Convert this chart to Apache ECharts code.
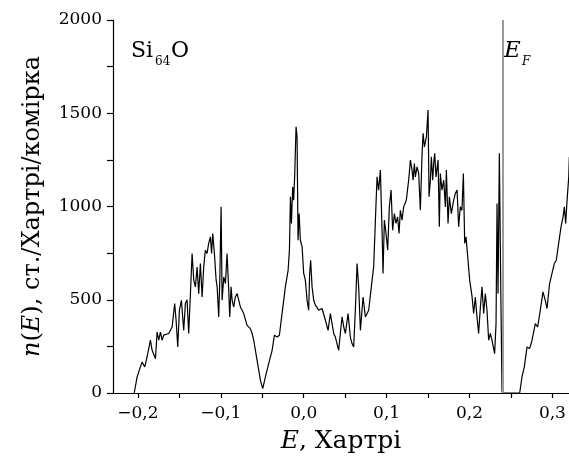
<!DOCTYPE html>
<html>
<head>
<meta charset="utf-8">
<script src="https://cdn.jsdelivr.net/npm/echarts@6/dist/echarts.min.js"></script>
<style>html,body{margin:0;padding:0;background:#fff}#c{width:569px;height:464px}</style>
</head>
<body>
<div id="c"></div>
<script>
// Energy (Hartree) and density of states n(E)
const energy = [
-0.2044,-0.2030,-0.2009,-0.1970,-0.1949,-0.1917,-0.1889,-0.1849,-0.1828,-0.1788,-0.1768,-0.1748,-0.1728,-0.1708,-0.1688,-0.1668,-0.1628,-0.1587,-0.1556,-0.1539,-0.1519,-0.1499,-0.1475,-0.1447,-0.1427,-0.1407,-0.1387,-0.1366,-0.1346,-0.1326,-0.1306,-0.1286,-0.1266,-0.1246,-0.1225,-0.1206,-0.1186,-0.1166,-0.1146,-0.1125,-0.1111,-0.1097,-0.1077,-0.1056,-0.1044,-0.1025,-0.1012,-0.0996,-0.0984,-0.0964,-0.0944,-0.0924,-0.0904,-0.0892,-0.0876,-0.0863,-0.0844,-0.0824,-0.0803,-0.0763,-0.0723,-0.0683,-0.0643,-0.0622,-0.0603,-0.0562,-0.0522,-0.0494,-0.0462,-0.0422,-0.0381,-0.0353,-0.0321,-0.0293,-0.0261,-0.0241,-0.0221,-0.0188,-0.0172,-0.0160,-0.0148,-0.0133,-0.0121,-0.0109,-0.0092,-0.0080,-0.0068,-0.0055,-0.0040,-0.0019,0.0000,0.0020,0.0041,0.0060,0.0072,0.0084,0.0101,0.0121,0.0141,0.0181,0.0222,0.0262,0.0294,0.0322,0.0342,0.0362,0.0382,0.0422,0.0442,0.0463,0.0483,0.0503,0.0535,0.0563,0.0583,0.0603,0.0623,0.0644,0.0663,0.0684,0.0716,0.0744,0.0784,0.0825,0.0844,0.0865,0.0885,0.0904,0.0925,0.0945,0.0957,0.0973,0.0993,0.1013,0.1033,0.1054,0.1073,0.1094,0.1113,0.1133,0.1150,0.1166,0.1186,0.1206,0.1238,0.1266,0.1287,0.1307,0.1319,0.1335,0.1347,0.1367,0.1387,0.1407,0.1428,0.1440,0.1456,0.1480,0.1500,0.1512,0.1528,0.1540,0.1556,0.1568,0.1580,0.1596,0.1621,0.1636,0.1648,0.1668,0.1689,0.1709,0.1721,0.1741,0.1757,0.1781,0.1809,0.1829,0.1850,0.1869,0.1889,0.1909,0.1926,0.1942,0.1958,0.1982,0.2002,0.2031,0.2050,0.2070,0.2090,0.2110,0.2131,0.2151,0.2171,0.2191,0.2211,0.2231,0.2251,0.2271,0.2303,0.2320,0.2332,0.2344,0.2360,0.2376,0.2392,0.2396,0.2500,0.2605,0.2633,0.2661,0.2694,0.2725,0.2754,0.2794,0.2822,0.2854,0.2886,0.2914,0.2935,0.2966,0.2995,0.3023,0.3047,0.3075,0.3104,0.3128,0.3144,0.3160,0.3177,0.3197,0.3204
];
const dos = [
0,0,86,140,166,140,193,283,229,184,327,283,327,283,310,300,319,354,480,390,247,444,497,336,480,500,319,533,748,605,569,676,533,694,515,676,766,748,802,837,748,855,748,605,570,408,605,998,497,622,587,748,551,408,569,497,461,515,533,461,426,363,345,319,283,175,68,24,86,158,229,310,300,310,426,497,569,658,766,1052,909,1105,1034,1159,1427,1374,819,962,819,783,641,605,497,444,641,712,569,497,471,444,453,390,336,426,372,319,300,229,319,408,354,319,426,300,265,247,444,694,569,336,515,408,444,605,676,927,1159,1088,1195,873,641,927,855,766,998,1088,873,962,909,944,855,980,927,998,1034,1141,1249,1195,1141,1230,1159,1213,1177,980,1285,1392,1320,1374,1517,1052,1141,1266,1141,1230,1285,1159,1249,891,1177,1088,1141,998,1195,909,1052,962,1034,1070,1088,891,998,980,1177,802,837,712,605,515,426,515,408,319,461,569,426,533,444,283,319,283,211,372,1016,533,1285,600,15,0,0,0,86,140,247,238,283,372,354,444,542,497,453,587,641,694,712,802,891,944,998,909,1034,1159,1266
];
const fermiEnergy = 0.2355;
const xLabelValues = [-0.2, -0.1, 0, 0.1, 0.2, 0.3];
const xTickValues = [-0.2, -0.15, -0.1, -0.05, 0, 0.05, 0.1, 0.15, 0.2, 0.25, 0.3];
const yTickValues = [0, 250, 500, 750, 1000, 1250, 1500, 1750, 2000];

const serif = '"DejaVu Serif", "Liberation Serif", serif';
const chart = echarts.init(document.getElementById('c'), null, {renderer: 'canvas'});
const fmtX = v => (v < -1e-9 ? '\u2212' : '') + Math.abs(v).toFixed(1).replace('.', ',');

chart.setOption({
  animation: false,
  backgroundColor: '#fff',
  grid: {left: 113, right: 0, top: 20, bottom: 71},
  xAxis: {
    type: 'value', min: -0.23, max: 0.32,
    name: '{i|E}, Хартрі', nameLocation: 'middle', nameGap: 36,
    nameTextStyle: {fontFamily: serif, fontSize: 25, color: '#000',
      rich: {i: {fontFamily: serif, fontSize: 25, fontStyle: 'italic', color: '#000'}}},
    axisLine: {show: true, onZero: false, lineStyle: {color: '#000', width: 1.2}},
    axisTick: {show: true, length: 5, customValues: xTickValues, lineStyle: {color: '#000', width: 1.2}},
    axisLabel: {customValues: xLabelValues, formatter: fmtX, fontFamily: serif, fontSize: 17, color: '#000', margin: 12},
    splitLine: {show: false}
  },
  yAxis: {
    type: 'value', min: 0, max: 2000, interval: 500,
    name: '{i|n}({i|E}), ст./Хартрі/комірка', nameLocation: 'middle', nameGap: 68, nameRotate: 90,
    nameTextStyle: {fontFamily: serif, fontSize: 24, color: '#000',
      rich: {i: {fontFamily: serif, fontSize: 24, fontStyle: 'italic', color: '#000'}}},
    axisLine: {show: true, onZero: false, lineStyle: {color: '#000', width: 1.2}},
    axisTick: {show: true, length: 6, customValues: yTickValues, lineStyle: {color: '#000', width: 1.2}},
    axisLabel: {formatter: v => String(v), fontFamily: serif, fontSize: 17, color: '#000', margin: 11},
    splitLine: {show: false}
  },
  graphic: [
    {type: 'text', left: 131, top: 40, style: {text: 'Si', font: '22px ' + serif, fill: '#000'}},
    {type: 'text', left: 155, top: 56, style: {text: '64', font: '12px ' + serif, fill: '#000'}},
    {type: 'text', left: 171, top: 40, style: {text: 'O', font: '22px ' + serif, fill: '#000'}},
    {type: 'text', left: 504, top: 40, style: {text: 'E', font: 'italic 23px ' + serif, fill: '#000'}},
    {type: 'text', left: 522, top: 56, style: {text: 'F', font: 'italic 12px ' + serif, fill: '#000'}}
  ],
  series: [{
    type: 'line',
    data: energy.map((e, i) => [e, dos[i]]),
    showSymbol: false,
    lineStyle: {color: '#000', width: 1.2},
    markLine: {
      silent: true, symbol: ['none', 'none'], label: {show: false},
      lineStyle: {color: '#9a9a9a', width: 2, type: 'solid'},
      data: [{xAxis: fermiEnergy}]
    },
    z: 3
  }]
});
</script>
</body>
</html>
